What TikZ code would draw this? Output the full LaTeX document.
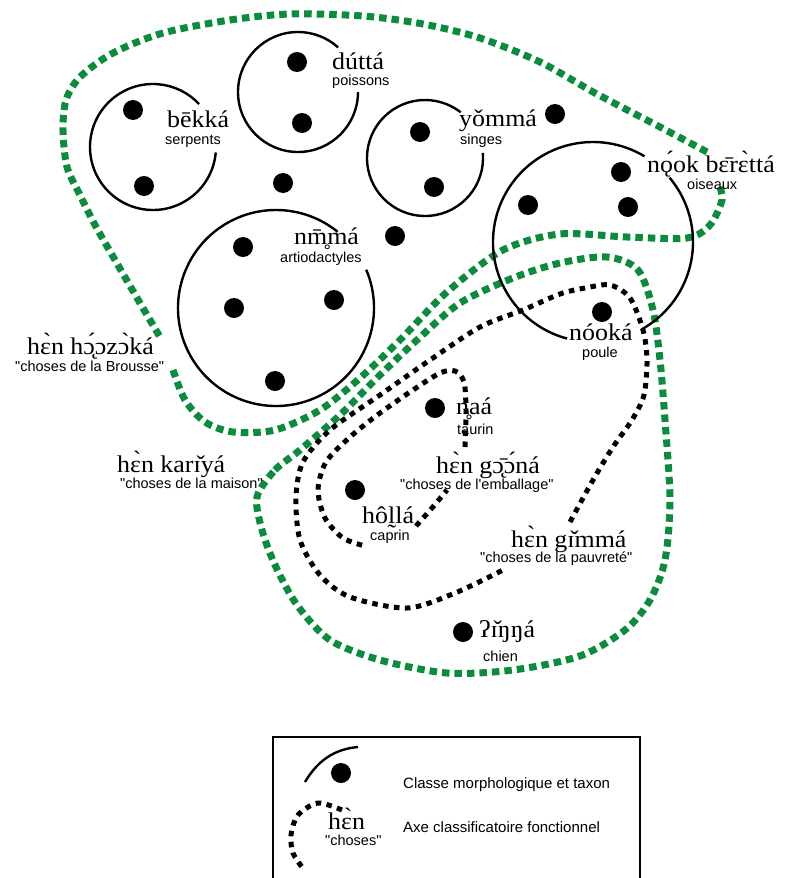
\documentclass[tikz,border=0pt]{standalone}
\usepackage{fontspec}
\setmainfont{Liberation Serif}
\newfontfamily\ling[FakeStretch=1.08]{Liberation Serif}
\newfontfamily\gls{Liberation Sans}
\definecolor{grn}{RGB}{10,140,60}
\tikzset{
  dot/.style={circle,fill=black,inner sep=0pt,minimum size=20pt},
  ring/.style={line width=2.4pt,black},
  grnline/.style={grn,line width=7pt,dash pattern=on 7.5pt off 5pt},
  blkline/.style={black,line width=5pt,dash pattern=on 5.5pt off 5.5pt},
  word/.style={font=\ling\fontsize{24}{27}\selectfont,inner sep=0pt,anchor=west},
  gloss/.style={font=\gls\fontsize{14.5}{16}\selectfont,inner sep=0pt,anchor=west},
  legtext/.style={font=\gls\fontsize{15}{17}\selectfont,inner sep=0pt,anchor=west},
}
\begin{document}
\begin{tikzpicture}[x=1pt,y=-1pt]
\useasboundingbox (0,0) rectangle (794,878);

% ---------- green functional axes ----------
\draw[grnline] plot[smooth] coordinates {(173,370) (185,400) (205,422) (233,432) (275,430) (320,410) (360,378) (400,340) (447,292) (503,250) (560,234) (627,237) (687,238) (710,225) (722,200) (719,185)};
\draw[grnline] plot[smooth] coordinates {(707,152) (660,127) (595,93) (540,62) (480,38) (423,24) (363,16) (290,14) (230,20) (163,33) (113,53) (80,77) (66,100) (63,130) (67,167) (80,195) (95,225) (115,260) (140,303) (160,337)};
\draw[grnline] plot[smooth cycle] coordinates {(257,497) (275,470) (300,450) (340,415) (380,375) (417,340) (460,303) (513,278) (560,263) (607,257) (638,270) (653,310) (660,360) (665,420) (670,500) (665,560) (650,600) (625,630) (580,656) (513,670) (447,673) (380,660) (330,640) (297,605) (275,565) (262,530)};

% ---------- black functional axes ----------
\draw[blkline] plot[smooth] coordinates {(570,522) (593,480) (613,447) (632,420) (644,395) (647,360) (643,330) (630,298) (610,285) (585,288) (560,294) (523,310) (480,327) (430,360) (380,395) (330,430) (303,462) (296,497) (300,540) (320,575) (350,597) (407,608) (455,593) (503,570)};
\draw[blkline] plot[smooth] coordinates {(465,447) (466,410) (464,382) (455,371) (440,373) (413,390) (380,413) (350,437) (326,462) (318,490) (325,518) (343,538) (365,546)};
\draw[blkline] plot[smooth] coordinates {(416,526) (432,508) (447,490)};

% ---------- morphological classes (circles with gaps) ----------
\draw[ring] (153,147) ++(5:63) arc[start angle=5,end angle=317,radius=63];
\draw[ring] (298,92) ++(0:60) arc[start angle=0,end angle=312,radius=60];
\draw[ring] (425,158) ++(-5:58) arc[start angle=-5,end angle=308,radius=58];
\draw[ring] (593,242) ++(-40:100) arc[start angle=-40,end angle=61,radius=100];
\draw[ring] (593,242) ++(105:100) arc[start angle=105,end angle=301,radius=100];
\draw[ring] (276,308) ++(-23:98) arc[start angle=-23,end angle=309,radius=98];

% ---------- dots ----------
\node[dot] (b1) at (133,110) {};
\node[dot] (b2) at (144,186) {};
\node[dot] (p1) at (297,62) {};
\node[dot] (p2) at (302,123) {};
\node[dot] (s1) at (420,132) {};
\node[dot] (s2) at (434,187) {};
\node[dot] (f1) at (555,114) {};
\node[dot] (f2) at (283,183) {};
\node[dot] (f3) at (395,236) {};
\node[dot] (o1) at (621,172) {};
\node[dot] (o2) at (528,205) {};
\node[dot] (o3) at (628,207) {};
\node[dot] (o4) at (602,312) {};
\node[dot] (a1) at (243,247) {};
\node[dot] (a2) at (234,308) {};
\node[dot] (a3) at (334,300) {};
\node[dot] (a4) at (275,381) {};
\node[dot] (t1) at (435,408) {};
\node[dot] (c1) at (355,490) {};
\node[dot] (ch) at (463,632) {};

% ---------- labels ----------
\node[word] (w1) at (167,119) {bēkká};
\node[gloss] (g1) at (165,141) {serpents};
\node[word] (w2) at (332,61) {dúttá};
\node[gloss] (g2) at (332,82) {poissons};
\node[word] (w3) at (459,121) {yǒmmá};
\node[gloss] (g3) at (460,141) {singes};
\node[word] (w4) at (294,239) {nm̥̄má};
\node[gloss] (g4) at (280,259) {artiodactyles};
\node[word] (w5) at (647,164) {nǫ́ok bɛ̄rɛ̀ttá};
\node[gloss] (g5) at (687,184) {oiseaux};
\node[word] (w6) at (569,332) {nóoká};
\node[gloss] (g6) at (582,354) {poule};
\node[word] (w7) at (456,409) {n̥aá};
\node[gloss] (g7) at (457,429) {taurin};
\node[word] (w8) at (436,465) {hɛ̀n gɔ̨̄ɔ́ná};
\node[gloss] (g8) at (400,486) {"choses de l'emballage"};
\node[word] (w9) at (362,517) {hôl̰lá};
\node[gloss] (g9) at (370,537) {caprin};
\node[word] (w10) at (511,539) {hɛ̀n gɪ̌mmá};
\node[gloss] (g10) at (480,559) {"choses de la pauvreté"};
\node[word] (w11) at (479,632) {ʔɪ̌ŋŋá};
\node[gloss] (g11) at (483,656) {chien};
\node[word] (w12) at (27,346) {hɛ̀n hɔ̨́ɔzɔ̀ká};
\node[gloss] (g12) at (15,366) {"choses de la Brousse"};
\node[word] (w13) at (117,464) {hɛ̀n karɪ̌yá};
\node[gloss] (g13) at (120,483) {"choses de la maison"};

% ---------- legend ----------
\draw[line width=1.4pt] (273,880) -- (273,737) -- (640,737) -- (640,880);
\coordinate (la) at (305,782);
\coordinate (lb) at (358,747);
\draw[ring] (la) .. controls (318,760) and (335,749) .. (lb);
\node[dot] (ld) at (341,773) {};
\node[legtext] (l1) at (403,785) {Classe morphologique et taxon};
\draw[blkline] plot[smooth] coordinates {(342,810) (318,803) (298,815) (291,835) (293,853) (302,867)};
\node[word] (lw) at (328,819) {hɛ̀n};
\node[gloss] (lg) at (325,840) {"choses"};
\node[legtext] (l2) at (403,827) {Axe classificatoire fonctionnel};
\end{tikzpicture}
\end{document}
